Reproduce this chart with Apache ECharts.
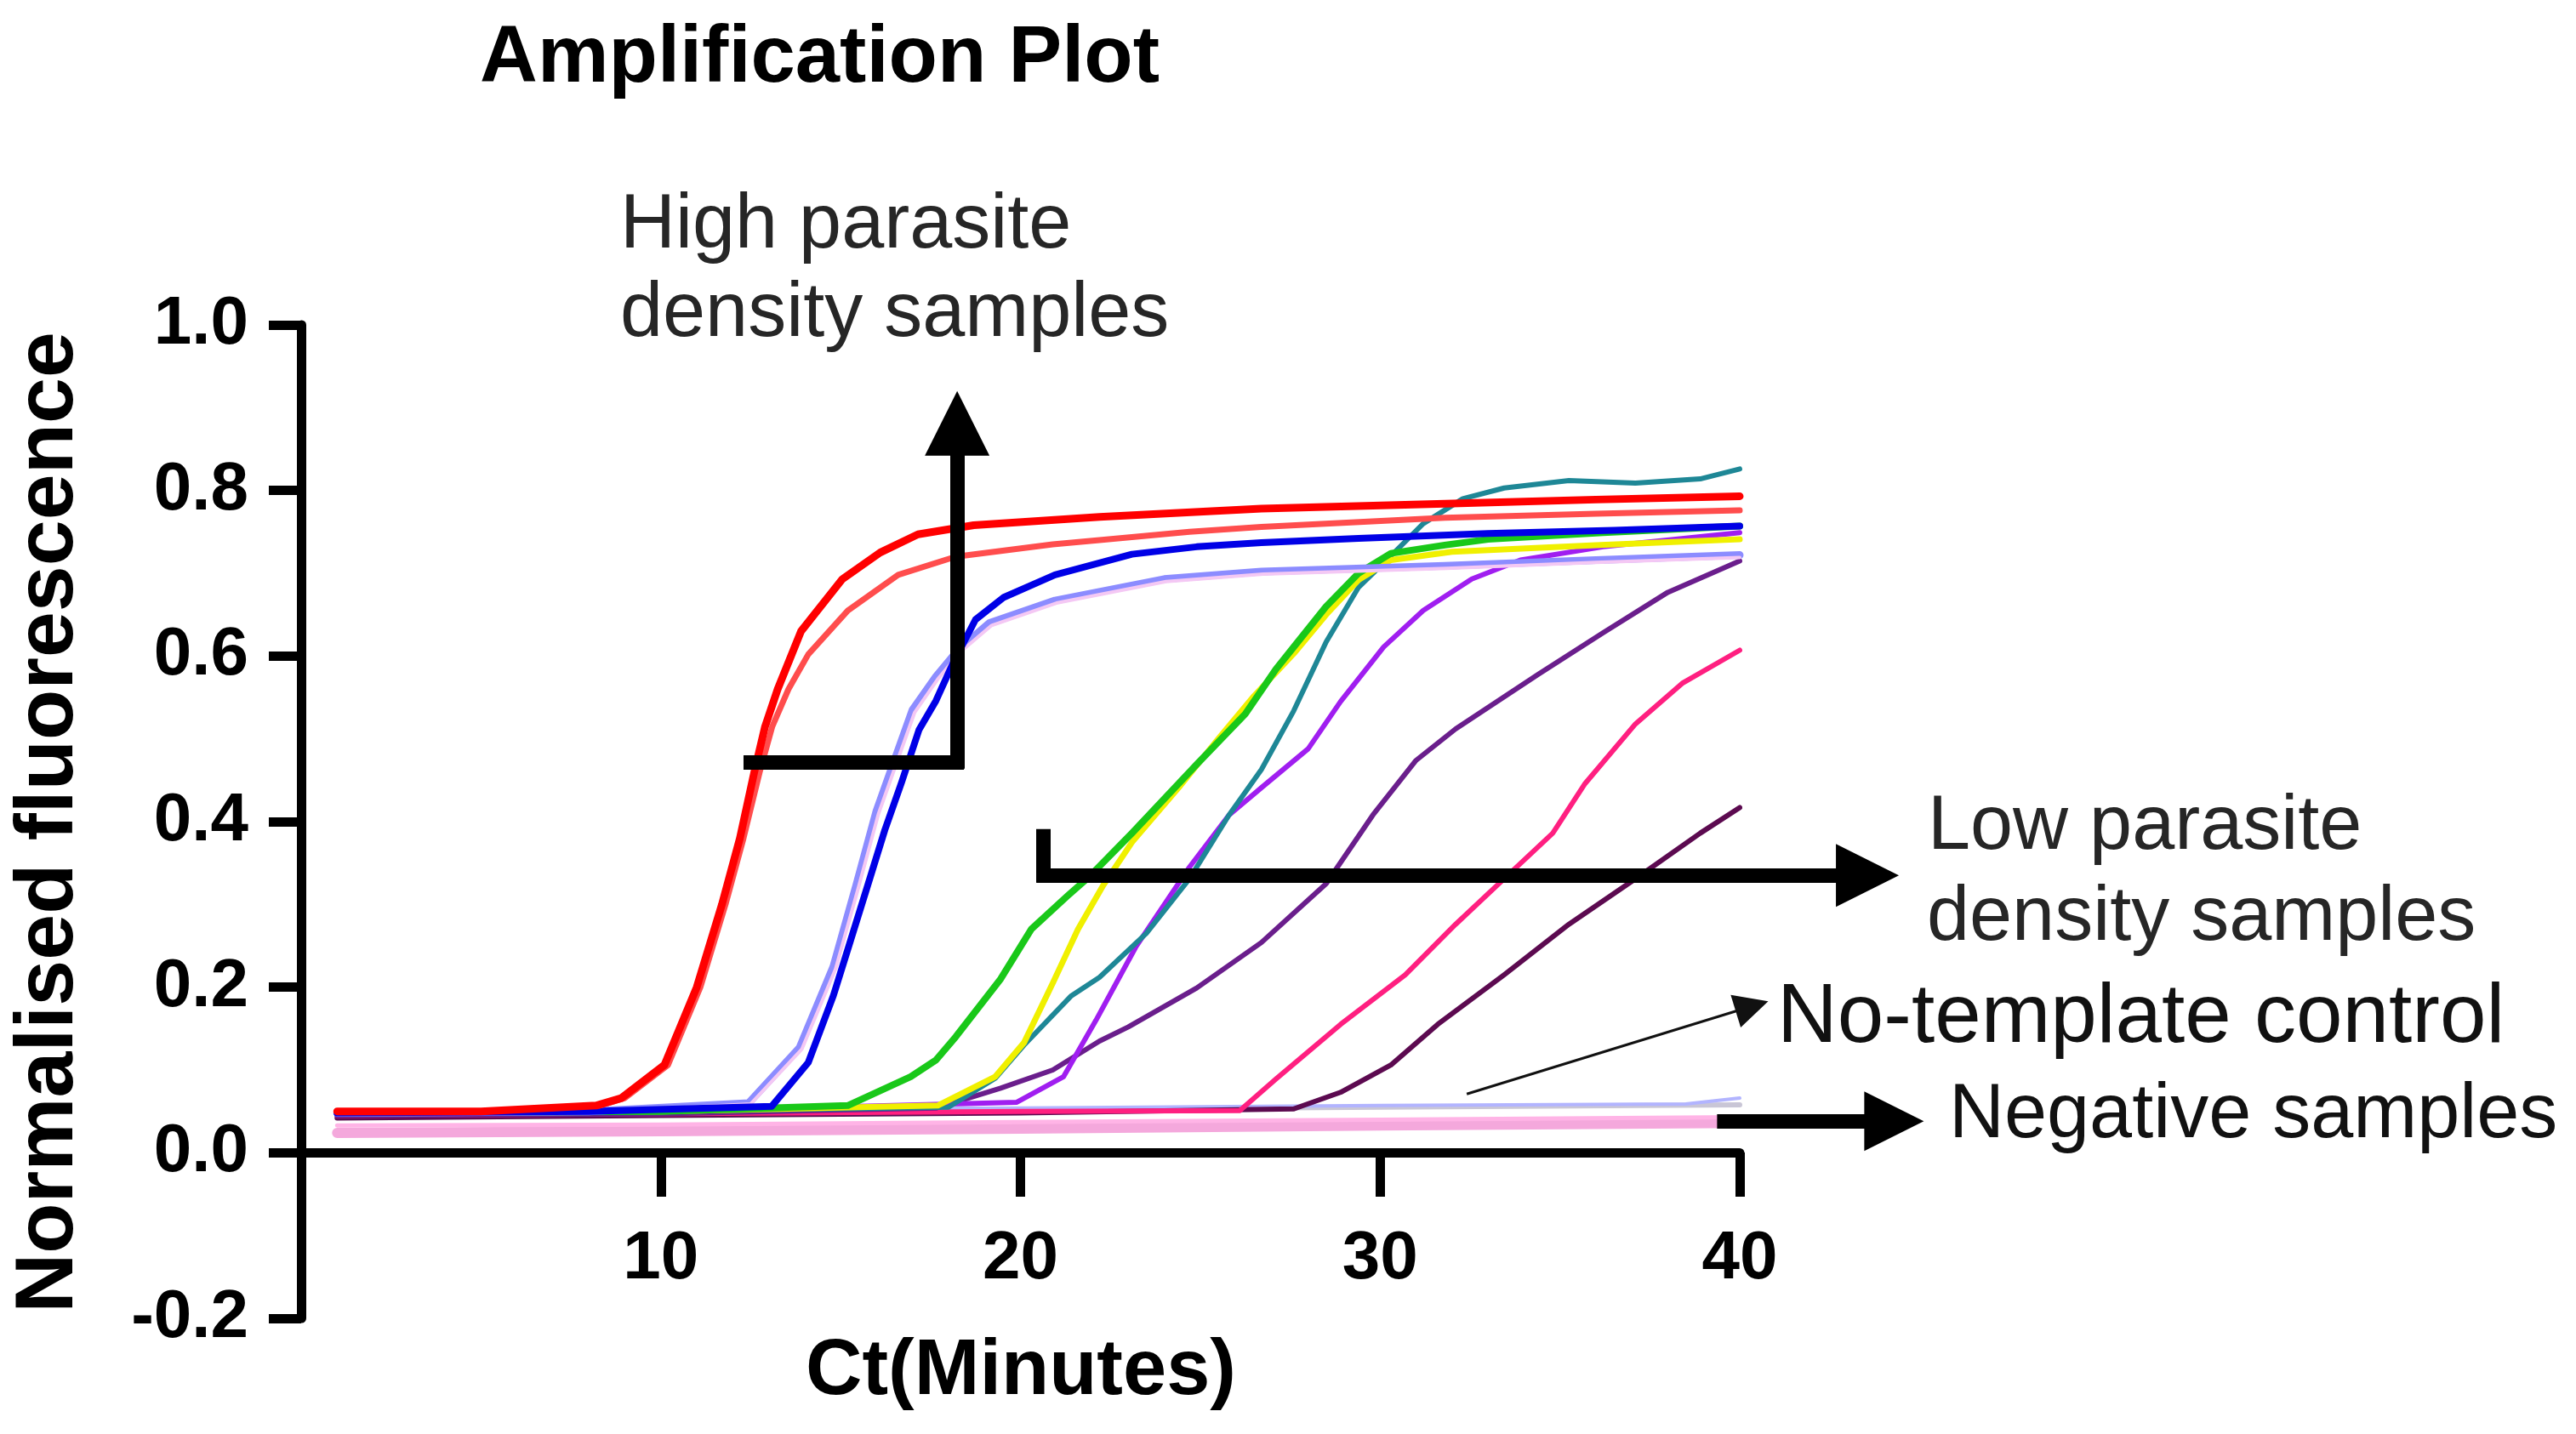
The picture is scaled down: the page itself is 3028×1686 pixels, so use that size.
<!DOCTYPE html>
<html>
<head>
<meta charset="utf-8">
<title>Amplification Plot</title>
<script src="https://cdn.jsdelivr.net/npm/echarts@6/dist/echarts.min.js"></script>
<style>
  html, body { margin: 0; padding: 0; background: #fff; }
  #chart { width: 3028px; height: 1686px; }
</style>
</head>
<body>
<div id="chart"></div>
<script>
// ticks
const xTicks = [0, 10, 20, 30, 40];
const yTicks = [-0.2, 0, 0.2, 0.4, 0.6, 0.8, 1.0];

// curves, [Ct minutes, normalised fluorescence]
const brightRed = [[1,0.05],[5,0.05],[8.2,0.057],[8.9,0.066],[10.1,0.106],[11.0,0.2],[11.7,0.3],[12.2,0.38],[12.6,0.46],[12.9,0.515],[13.25,0.56],[13.9,0.63],[15.05,0.693],[16.1,0.725],[17.15,0.747],[18.7,0.758],[22.2,0.768],[26.7,0.778],[31.8,0.784],[36,0.789],[40,0.793]];
const paleRed = [[1,0.05],[5,0.05],[8.3,0.057],[9.0,0.066],[10.2,0.106],[11.1,0.2],[11.8,0.3],[12.3,0.38],[12.75,0.46],[13.1,0.515],[13.55,0.56],[14.1,0.602],[15.2,0.655],[16.6,0.698],[18.2,0.72],[20.9,0.735],[22.2,0.74],[24.7,0.75],[26.7,0.756],[31.8,0.767],[36,0.772],[40,0.776]];
const blue = [[1,0.048],[8,0.05],[13.08,0.056],[14.1,0.109],[14.8,0.19],[15.28,0.257],[15.76,0.324],[16.23,0.39],[16.7,0.448],[17.18,0.511],[17.65,0.546],[18.12,0.591],[18.75,0.644],[19.54,0.671],[20.96,0.698],[23.1,0.723],[24.9,0.732],[26.7,0.737],[29.4,0.742],[33,0.748],[36.5,0.752],[40,0.757]];
const lavender = [[1,0.048],[8,0.05],[12.44,0.06],[13.86,0.127],[14.8,0.225],[15.44,0.324],[15.99,0.412],[16.54,0.479],[17.0,0.535],[17.65,0.575],[18.28,0.608],[19.14,0.64],[20.96,0.667],[24.0,0.693],[26.7,0.702],[31.8,0.709],[36,0.716],[40,0.722]];
const lilac = [[1,0.047],[8,0.049],[12.5,0.059],[13.92,0.125],[14.86,0.222],[15.5,0.321],[16.05,0.409],[16.6,0.476],[17.06,0.532],[17.7,0.572],[18.33,0.605],[19.2,0.637],[21.0,0.664],[24.05,0.69],[26.75,0.699],[31.85,0.706],[36,0.713],[40,0.719]];
const green = [[1,0.048],[10,0.05],[15.2,0.057],[16.95,0.092],[17.65,0.112],[18.2,0.14],[19.45,0.21],[20.3,0.27],[21.3,0.31],[21.9,0.333],[23.1,0.386],[24.9,0.469],[26.25,0.53],[27.1,0.584],[27.6,0.611],[28.5,0.66],[29.4,0.7],[30.3,0.724],[31.8,0.734],[33,0.741],[36.2,0.749],[40,0.757]];
const yellow = [[1,0.048],[10,0.05],[17.7,0.057],[19.3,0.092],[20.1,0.133],[20.9,0.205],[21.6,0.27],[22.3,0.323],[23.1,0.375],[24.4,0.441],[25.5,0.5],[26.5,0.552],[27.6,0.603],[28.5,0.65],[29.4,0.692],[30.3,0.716],[32,0.726],[36,0.734],[40,0.741]];
const teal = [[1,0.048],[10,0.05],[18.0,0.055],[19.3,0.09],[20.1,0.13],[21.4,0.189],[22.2,0.212],[23.5,0.265],[24.7,0.331],[25.8,0.408],[26.7,0.463],[27.6,0.534],[28.5,0.617],[29.4,0.683],[30.3,0.721],[31.2,0.76],[32.3,0.79],[33.45,0.803],[35.25,0.812],[37.1,0.809],[38.9,0.814],[40,0.826]];
const violet = [[1,0.048],[10,0.05],[19.9,0.061],[21.2,0.092],[22.1,0.16],[23.2,0.248],[24.7,0.345],[25.8,0.408],[26.7,0.441],[28.0,0.488],[28.9,0.545],[30.1,0.611],[31.2,0.655],[32.55,0.693],[33.9,0.716],[36.2,0.732],[40,0.749]];
const purple = [[1,0.045],[10,0.047],[17.65,0.054],[19.45,0.078],[20.9,0.1],[22.2,0.135],[23.0,0.152],[24.9,0.199],[26.7,0.254],[28.5,0.325],[29.8,0.408],[31.0,0.474],[32.1,0.512],[34.4,0.578],[36.2,0.628],[38.0,0.677],[40,0.715]];
const pink = [[1,0.045],[10,0.047],[20,0.05],[26.1,0.051],[27.1,0.089],[28.9,0.155],[30.7,0.215],[32.1,0.276],[33.45,0.331],[34.8,0.386],[35.7,0.446],[37.1,0.518],[38.4,0.567],[40,0.607]];
const plum = [[1,0.042],[10,0.045],[20,0.048],[27.6,0.053],[28.9,0.073],[30.3,0.106],[31.6,0.155],[33.45,0.215],[35.25,0.276],[37.1,0.331],[38.9,0.386],[40,0.417]];
// negative samples and no-template control
const negPinkWide = [[1,0.024],[10,0.026],[20,0.029],[30,0.033],[40,0.036]];
const negPinkThin = [[1,0.033],[10,0.034],[20,0.037],[30,0.04],[40,0.043]];
const negGrey = [[1,0.047],[10,0.049],[20,0.052],[30,0.055],[40,0.058]];
const negBlue = [[1,0.05],[20,0.054],[30,0.057],[38.5,0.059],[40,0.066]];

const FONT = '"Liberation Sans", Arial, Helvetica, sans-serif';

// draw order: bottom first
const curves = [
  { data: negPinkWide, color: '#f4a8dc', width: 12 },
  { data: negPinkThin, color: '#ffb4e6', width: 5 },
  { data: negGrey, color: '#c9c6d6', width: 6 },
  { data: negBlue, color: '#b2b4ff', width: 4 },
  { data: plum, color: '#5c0a50', width: 6 },
  { data: pink, color: '#ff1f80', width: 6 },
  { data: purple, color: '#6a1e8c', width: 6 },
  { data: violet, color: '#a01ef0', width: 6 },
  { data: teal, color: '#1e8796', width: 6 },
  { data: yellow, color: '#f0f000', width: 7 },
  { data: green, color: '#19c819', width: 8 },
  { data: lavender, color: '#8c8cff', width: 9 },
  { data: lilac, color: '#f4c8f4', width: 4 },
  { data: blue, color: '#0000e6', width: 8 },
  { data: paleRed, color: '#ff4d4d', width: 7 },
  { data: brightRed, color: '#ff0000', width: 9 }
];

// annotation arrows in data coordinates (arrow = size of the head)
const arrows = [
  { from: [12.3, 0.472], to: [18.43, 0.472] },
  { from: [18.24, 0.464], to: [18.24, 0.881], arrow: 76 },
  { from: [20.63, 0.391], to: [20.63, 0.327] },
  { from: [20.44, 0.335], to: [43.55, 0.335], arrow: 74 },
  { from: [32.41, 0.071], to: [40.34, 0.177], arrow: 40, width: 3 },
  { from: [39.37, 0.038], to: [44.29, 0.038], arrow: 70 }
];

function label(text, x, y, size, weight, color, align) {
  return {
    type: 'text', x: x, y: y, z: 100,
    style: {
      text: text, x: 0, y: 0,
      font: weight + ' ' + size + 'px ' + FONT,
      fill: color,
      textAlign: align || 'left', align: align || 'left',
      textVerticalAlign: 'middle', verticalAlign: 'middle'
    }
  };
}

const chart = echarts.init(document.getElementById('chart'));

const series = curves.map(function (c, i) {
  return {
    type: 'line',
    data: c.data,
    showSymbol: false,
    smooth: false,
    z: 2 + i * 0.01,
    lineStyle: { color: c.color, width: c.width, join: 'round', cap: 'round' },
    itemStyle: { color: c.color },
    animation: false
  };
});

series.push({
  type: 'lines',
  coordinateSystem: 'cartesian2d',
  clip: false,
  z: 20,
  animation: false,
  lineStyle: { color: '#000', width: 17, opacity: 1 },
  data: arrows.map(function (a) {
    const item = { coords: [a.from, a.to] };
    if (a.arrow) {
      item.symbol = ['none', 'triangle'];
      item.symbolSize = [1, a.arrow];
    } else {
      item.symbol = ['none', 'none'];
    }
    if (a.width) item.lineStyle = { width: a.width, color: '#111' };
    return item;
  })
});

const yName = label('Normalised fluorescence', 58, 967, 97, 'bold', '#000', 'center');
yName.rotation = Math.PI / 2;

chart.setOption({
  backgroundColor: '#fff',
  animation: false,
  grid: { left: 354, right: 983, top: 382, bottom: 136, containLabel: false, outerBoundsMode: 'none' },
  xAxis: {
    type: 'value',
    min: xTicks[0], max: xTicks[xTicks.length - 1], interval: 10,
    // the axis sits on y = 0, which is 0.2 units above the grid bottom
    offset: -195,
    splitLine: { show: false },
    axisLine: { onZero: false, lineStyle: { color: '#000', width: 11 } },
    axisTick: { length: 52, lineStyle: { color: '#000', width: 11 } },
    axisLabel: {
      margin: 86, color: '#000', fontSize: 80, fontWeight: 'bold', fontFamily: FONT,
      formatter: function (v) { return v === 0 ? '' : String(v); }
    }
  },
  yAxis: {
    type: 'value',
    min: yTicks[0], max: yTicks[yTicks.length - 1], interval: 0.2,
    splitLine: { show: false },
    axisLine: { show: true, onZero: false, lineStyle: { color: '#000', width: 11 } },
    axisTick: { show: true, length: 38, lineStyle: { color: '#000', width: 11 } },
    axisLabel: {
      margin: 62, color: '#000', fontSize: 80, fontWeight: 'bold', fontFamily: FONT,
      formatter: function (v) { return (Math.abs(v) < 1e-9 ? 0 : v).toFixed(1); }
    }
  },
  graphic: [
    label('Amplification Plot', 564, 70, 94, 'bold', '#000'),
    yName,
    label('Ct(Minutes)', 1200, 1614, 92, 'bold', '#000', 'center'),
    label('High parasite', 729, 266, 90, 'normal', '#262626'),
    label('density samples', 729, 370, 90, 'normal', '#262626'),
    label('Low parasite', 2266, 973, 90, 'normal', '#262626'),
    label('density samples', 2265, 1080, 90, 'normal', '#262626'),
    label('No-template control', 2089, 1198, 98, 'normal', '#111'),
    label('Negative samples', 2291, 1312, 90, 'normal', '#111')
  ],
  series: series
});
</script>
</body>
</html>
